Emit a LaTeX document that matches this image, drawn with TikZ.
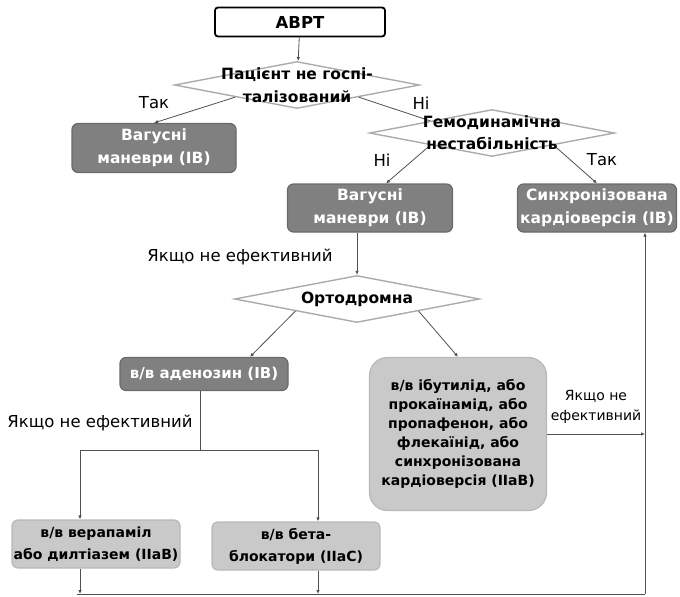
\documentclass[tikz,border=0pt]{standalone}
\usepackage{fontspec}
\setmainfont{DejaVu Sans}
\usetikzlibrary{shapes.geometric,arrows.meta}
\definecolor{boxdark}{HTML}{808080}
\definecolor{boxdarkline}{HTML}{6A6A6A}
\definecolor{boxlight}{HTML}{C9C9C9}
\definecolor{boxlightline}{HTML}{B8B8B8}
\definecolor{decline}{HTML}{ABABAB}
\definecolor{connline}{HTML}{505050}
\tikzset{
  startbox/.style={draw=black, line width=1.8pt, rounded corners=3pt, fill=white,
    minimum width=170pt, minimum height=29pt, font=\bfseries\fontsize{16.5}{18}\selectfont},
  darkbox/.style={draw=boxdarkline, line width=1.2pt, rounded corners=6pt, fill=boxdark,
    text=white, align=center, inner sep=0pt, font=\bfseries\fontsize{15.5}{23}\selectfont},
  lightbox/.style={draw=boxlightline, line width=1.2pt, rounded corners=6pt, fill=boxlight,
    align=center, inner sep=0pt, font=\bfseries\fontsize{14}{22}\selectfont},
  decision/.style={diamond, draw=decline, line width=1.4pt, fill=white, inner sep=0pt,
    minimum width=245pt, minimum height=47pt},
  dectext/.style={align=center, font=\bfseries\fontsize{15.5}{23}\selectfont},
  answer/.style={font=\fontsize{16.5}{20}\selectfont, align=center},
  conn/.style={draw=connline, line width=0.8pt, -{Latex[length=4pt,width=3.5pt]}},
  plain/.style={draw=connline, line width=0.8pt}
}
\begin{document}
\begin{tikzpicture}[x=1pt,y=-1pt]
  \useasboundingbox (0,0) rectangle (680,597);

  \node[startbox] (avrt) at (300,22) {АВРТ};
  \node[decision] (d1) at (297,85) {};
  \node[darkbox, minimum width=164pt, minimum height=49pt] (vag1) at (154,148) {Вагусні\\маневри (IB)};
  \node[decision] (d2) at (492,133) {};
  \node[darkbox, minimum width=165pt, minimum height=48pt] (vag2) at (370,208) {Вагусні\\маневри (IB)};
  \node[darkbox, minimum width=159pt, minimum height=48pt] (sync) at (597,208) {Синхронізована\\кардіоверсія (IB)};
  \node[decision] (d3) at (357,299) {};
  \node[darkbox, minimum width=168pt, minimum height=33pt, font=\bfseries\fontsize{15}{18}\selectfont] (aden) at (204,374) {в/в аденозин (IB)};
  \node[lightbox, rounded corners=18pt, minimum width=177pt, minimum height=153pt,
    font=\bfseries\fontsize{14}{19}\selectfont] (ibut) at (458,434)
    {в/в ібутилід, або\\прокаїнамід, або\\пропафенон, або\\флекаїнід, або\\синхронізована\\кардіоверсія (IIaB)};
  \node[lightbox, minimum width=168pt, minimum height=48pt] (verap) at (96,544) {в/в верапаміл\\або дилтіазем (IIaB)};
  \node[lightbox, minimum width=168pt, minimum height=48pt] (beta) at (296,546) {в/в бета-\\блокатори (IIaC)};

  \coordinate (jl) at (80,450);
  \coordinate (jr) at (318,450);
  \coordinate (busl) at (77,594);
  \coordinate (busr) at (645,594);

  \draw[conn] (avrt) -- (d1);
  \draw[conn] (d1.south west) -- (vag1.north);
  \draw[plain] (d1.south east) -- (d2.north west);
  \draw[conn] (d2.south west) -- ([xshift=16pt]vag2.north);
  \draw[conn] (d2.south east) -- (sync.north);
  \draw[conn] (d3.north |- vag2.south) -- (d3.north);
  \draw[conn] (d3.south west) -- ([xshift=46pt]aden.north);
  \draw[conn] (d3.south east) -- (ibut.north);
  \draw[plain] ([xshift=-4pt]aden.south) -- ([xshift=-4pt]aden.south |- jl);
  \draw[plain] (jl) -- (jr);
  \draw[conn] (jl) -- (jl |- verap.north);
  \draw[conn] (jr) -- (jr |- beta.north);
  \draw[conn] (jl |- verap.south) -- (jl |- busl);
  \draw[conn] (jr |- beta.south) -- (jr |- busl);
  \draw[plain] (busl) -- (busr);
  \draw[conn] (busr) -- (busr |- sync.south);
  \draw[conn] (ibut.east) -- (busr |- ibut.east);

  \node[dectext] (d1text) at (d1) {Пацієнт не госпі-\\талізований};
  \node[dectext, font=\bfseries\fontsize{15.5}{22}\selectfont] (d2text) at (d2) {Гемодинамічна\\нестабільність};
  \node[dectext] (d3text) at (d3) {Ортодромна};

  \node[answer] (tak1) at (154,103) {Так};
  \node[answer] (ni1) at (421,103) {Ні};
  \node[answer] (ni2) at (382,160) {Ні};
  \node[answer] (tak2) at (602,160) {Так};
  \node[answer] (fail1) at (240,257) {Якщо не ефективний};
  \node[answer] (fail2) at (100,423) {Якщо не ефективний};
  \node[answer, font=\fontsize{14}{20}\selectfont] (fail3) at (596,407) {Якщо не\\ефективний};
\end{tikzpicture}
\end{document}
